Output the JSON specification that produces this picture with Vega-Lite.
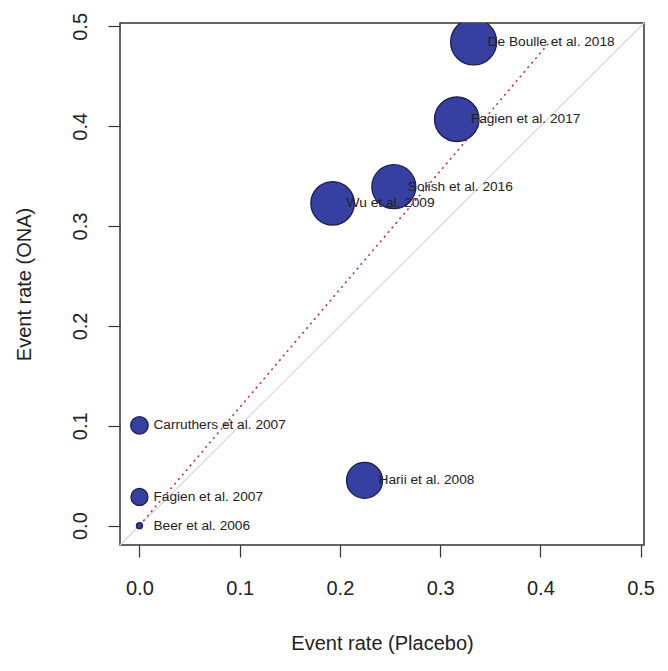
{
  "$schema": "https://vega.github.io/schema/vega-lite/v6.json",
  "width": 524,
  "height": 522,
  "autosize": {"type": "none"},
  "padding": {"left": 120, "top": 23, "right": 24, "bottom": 126},
  "background": "white",
  "config": {
    "font": "Liberation Sans",
    "view": {"stroke": "#333333", "strokeWidth": 1.5}
  },
  "datasets": {
    "studies": [
      {"study": "De Boulle et al. 2018", "x": 0.3334, "y": 0.4844, "weight": 9.2},
      {"study": "Fagien et al. 2017", "x": 0.3166, "y": 0.407, "weight": 8.9},
      {"study": "Solish et al. 2016", "x": 0.2538, "y": 0.3395, "weight": 8.8},
      {"study": "Wu et al. 2009", "x": 0.1927, "y": 0.3228, "weight": 8.7},
      {"study": "Harii et al. 2008", "x": 0.2246, "y": 0.0453, "weight": 7.2},
      {"study": "Carruthers et al. 2007", "x": 0, "y": 0.1004, "weight": 3.5},
      {"study": "Fagien et al. 2007", "x": 0, "y": 0.0287, "weight": 3.4},
      {"study": "Beer et al. 2006", "x": 0, "y": 0, "weight": 1.2}
    ],
    "diag": [{"x": -0.0194, "y": -0.0194}, {"x": 0.5034, "y": 0.5034}],
    "fit": [{"x": 0, "y": 0}, {"x": 0.409, "y": 0.484}]
  },
  "encoding": {
    "x": {
      "field": "x",
      "type": "quantitative",
      "scale": {"domain": [-0.0194, 0.5034], "nice": false, "zero": false},
      "axis": {
        "values": [0, 0.1, 0.2, 0.3, 0.4, 0.5],
        "format": ".1f",
        "title": "Event rate (Placebo)",
        "domain": false,
        "grid": false,
        "tickSize": 12,
        "tickColor": "#333333",
        "tickWidth": 1.2,
        "labelFontSize": 20,
        "labelColor": "#222222",
        "labelPadding": 21,
        "labelFlush": false,
        "titleFontSize": 20,
        "titleFontWeight": "normal",
        "titleColor": "#222222",
        "titlePadding": 35
      }
    },
    "y": {
      "field": "y",
      "type": "quantitative",
      "scale": {"domain": [-0.0194, 0.5034], "nice": false, "zero": false},
      "axis": {
        "values": [0, 0.1, 0.2, 0.3, 0.4, 0.5],
        "format": ".1f",
        "title": "Event rate (ONA)",
        "domain": false,
        "grid": false,
        "tickSize": 12,
        "tickColor": "#333333",
        "tickWidth": 1.2,
        "labelFontSize": 20,
        "labelColor": "#222222",
        "labelAngle": 270,
        "labelPadding": 18,
        "labelFlush": false,
        "titleFontSize": 20,
        "titleFontWeight": "normal",
        "titleColor": "#222222",
        "titlePadding": 36
      }
    }
  },
  "layer": [
    {
      "data": {"name": "diag"},
      "mark": {"type": "line", "color": "#d6d6d6", "strokeWidth": 1.2}
    },
    {
      "data": {"name": "fit"},
      "mark": {"type": "line", "color": "#c0304a", "strokeDash": [2, 4], "strokeWidth": 1.6}
    },
    {
      "data": {"name": "studies"},
      "mark": {"type": "circle", "fill": "#3540a0", "stroke": "#1c1f52", "strokeWidth": 1.3, "opacity": 1, "fillOpacity": 1, "clip": true},
      "encoding": {
        "size": {
          "field": "weight",
          "type": "quantitative",
          "scale": {"type": "pow", "exponent": 2, "domain": [0, 10], "range": [0, 2500]},
          "legend": null
        }
      }
    },
    {
      "data": {"name": "studies"},
      "mark": {"type": "text", "align": "left", "baseline": "middle", "dx": 14, "fontSize": 13.7, "color": "#222222"},
      "encoding": {"text": {"field": "study", "type": "nominal"}}
    }
  ]
}
